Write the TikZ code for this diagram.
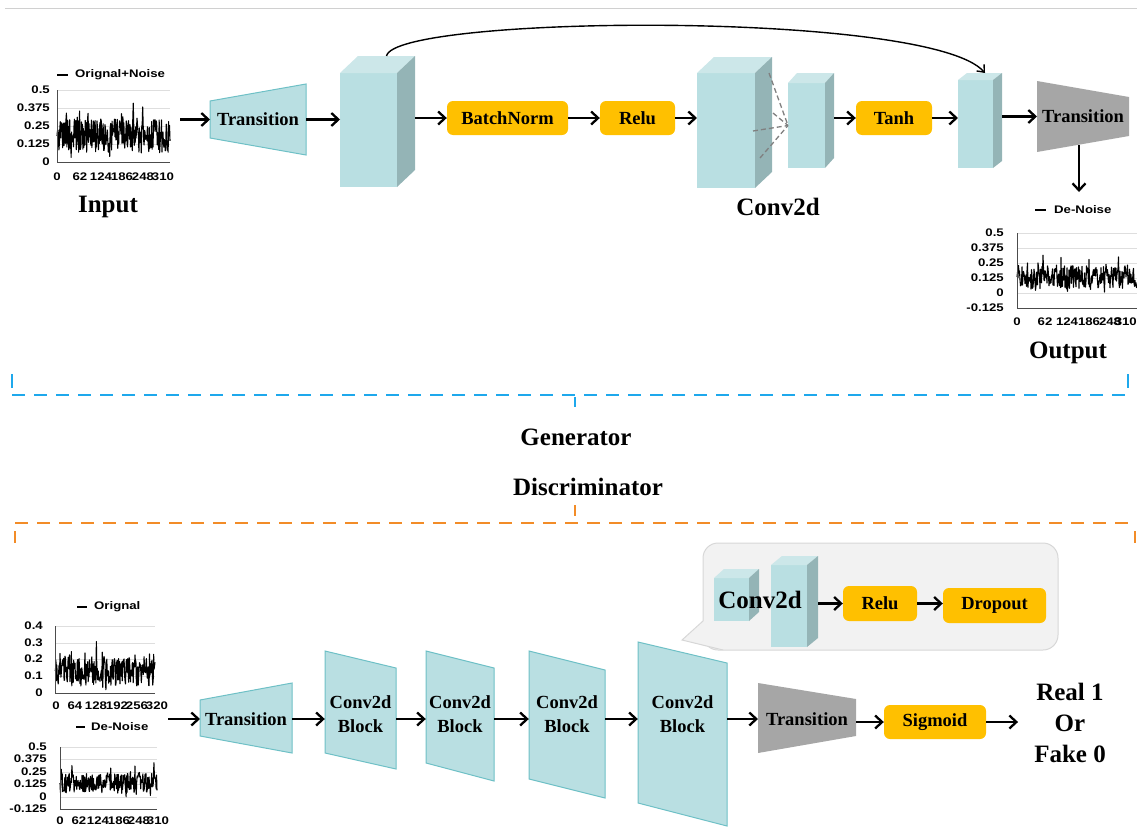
\documentclass[tikz,border=0pt]{standalone}
\usepackage{fontspec}
\setmainfont{Liberation Serif}
\newfontfamily\chartfont{Liberation Sans}[FakeStretch=1.2]
\usetikzlibrary{arrows.meta,calc}

\definecolor{tealfill}{RGB}{185,223,226}
\definecolor{tealtop}{RGB}{204,231,233}
\definecolor{tealside}{RGB}{148,180,182}
\definecolor{tealedge}{RGB}{110,192,198}
\definecolor{amber}{RGB}{255,192,0}
\definecolor{greyfill}{RGB}{166,166,166}
\definecolor{bubblefill}{RGB}{242,242,242}
\definecolor{bubbleedge}{RGB}{215,215,215}
\definecolor{genblue}{RGB}{30,168,236}
\definecolor{disorange}{RGB}{242,140,40}
\definecolor{gridgrey}{RGB}{222,222,222}
\definecolor{dashgrey}{RGB}{128,128,128}
\definecolor{rulegrey}{RGB}{208,208,208}

\newcommand\smallbold{\bfseries\fontsize{18.5}{24}\selectfont}
\newcommand\bigbold{\bfseries\fontsize{25}{31}\selectfont}

\tikzset{
  arr/.style={line width=2.3pt,-{Straight Barb[length=7pt,width=13pt]}},
  thinarr/.style={line width=1.4pt,-{Straight Barb[length=6pt,width=10pt]}},
  op/.style={fill=amber,rounded corners=6pt,inner sep=0pt,font=\smallbold},
  hull/.style={inner sep=0pt,outer sep=0pt},
  smalltxt/.style={font=\smallbold,inner sep=0pt},
  bigtxt/.style={font=\bigbold,inner sep=0pt},
  ticklbl/.style={font=\chartfont\bfseries\fontsize{11}{12}\selectfont,inner sep=0pt},
  tealshape/.style={fill=tealfill,draw=tealedge,line width=1pt},
  greyshape/.style={fill=greyfill},
  trace/.style={line width=1.1pt,line join=round},
  gridline/.style={draw=gridgrey,line width=0.7pt},
  axisline/.style={draw=black!70,line width=1pt},
  legline/.style={line width=1.3pt},
  genbr/.style={draw=genblue,line width=2.5pt},
  disbr/.style={draw=disorange,line width=2.5pt},
  brdash/.style={dash pattern=on 13pt off 9pt},
  bubble/.style={fill=bubblefill,draw=bubbleedge,line width=1pt},
  fanline/.style={draw=dashgrey,line width=1.3pt,dash pattern=on 5pt off 3pt},
}

% \cuboid{name}{left}{top}{right}{bottom}{depth x}{depth y}
\newcommand\cuboid[7]{%
  \fill[tealfill] (#2,#3) rectangle (#4,#5);
  \fill[tealtop] (#2,#3) -- ++(#6,-#7) -- ++({#4-#2},0) -- (#4,#3) -- cycle;
  \fill[tealside] (#4,#3) -- ++(#6,-#7) -- ++(0,{#5-#3}) -- (#4,#5) -- cycle;
  \node[hull,minimum width={#4-#2+#6},minimum height={#5-#3}] (#1)
    at ({(#2+#4+#6)/2},{(#3+#5)/2}) {};
}

% \noisetrace{seed}{x start}{x end}{mid y}{spread}{spike}{dip}{points}
\newcommand\noisetrace[8]{%
  \pgfmathsetseed{#1}
  \draw[trace] (#2,#4) \foreach \k in {1,...,#8} {
    -- ({#2+(#3-#2)/#8*\k},{#4+#5*rand-#6*4*max(0,rand-0.75)+#7*5*max(0,-0.8-rand)}) };
}

\begin{document}
\begin{tikzpicture}[x=1pt,y=-1pt]
\useasboundingbox (0,0) rectangle (1137,827);

% top rule
\draw[rulegrey,line width=1pt] (5,8) -- (1137,8);

% ---------------- generator ----------------
% input chart
\node[hull,minimum width=113pt,minimum height=72pt] (inC) at (113.5,126) {};
\foreach \y in {90,108,126,144} \draw[gridline] (57,\y) -- (170,\y);
\noisetrace{11}{57}{170}{136}{17}{22}{8}{240}
\draw[axisline] (57,90) -- (57,162) -- (170,162);
\foreach \v/\y [count=\n] in {0.5/90,0.375/108,0.25/126,0.125/144,0/162}
  \node[ticklbl,anchor=east] (inY\n) at (50,\y) {\v};
\foreach \v/\x [count=\n] in {0/57,62/80,124/101,186/122,248/143,310/163}
  \node[ticklbl] (inX\n) at (\x,177) {\v};
\draw[legline] (57,75) -- (68,75);
\node[ticklbl,anchor=west] (inLeg) at (75,75) {Orignal+Noise};
\node[bigtxt] (inTxt) at (108,207) {Input};

% first transition
\filldraw[tealshape] (210,101) -- (306,84) -- (306,155) -- (210,138) -- cycle;
\node[hull,smalltxt,minimum width=96pt,minimum height=71pt] (tr1) at (258,119.5) {Transition};

% blocks and operations
\cuboid{gb1}{340}{73}{397}{187}{18}{17}
\node[op,minimum width=121pt,minimum height=34pt] (bn) at (507.5,118) {BatchNorm};
\node[op,minimum width=75pt,minimum height=34pt] (relu1) at (637.5,118) {Relu};
\cuboid{gb2}{697}{73}{755}{188}{17}{16}
\cuboid{gb3}{788}{83}{825}{168}{9}{10}
\node[op,minimum width=76pt,minimum height=34pt] (tanh) at (894,118) {Tanh};
\cuboid{gb4}{958}{80}{993}{168}{9}{7}
\node[bigtxt] (convTxt) at (778,207) {Conv2d};

% convolution fan
\draw[fanline] ($(gb2.north east)+(-3,0)$) -- (gb3.west);
\draw[fanline] ($(gb2.north east)+(1,40)$) -- (gb3.west);
\draw[fanline] ($(gb2.north east)+(-19,58)$) -- (gb3.west);
\draw[fanline] ($(gb2.north east)+(-12,85)$) -- (gb3.west);

% output transition
\fill[greyshape] (1037,81) -- (1129,97) -- (1129,136) -- (1037,152) -- cycle;
\node[hull,smalltxt,minimum width=92pt,minimum height=71pt] (tr2) at (1083,116.5) {Transition};

% output chart
\node[hull,minimum width=120pt,minimum height=75pt] (outC) at (1077,270) {};
\foreach \y in {233,248,263,278,293} \draw[gridline] (1017,\y) -- (1137,\y);
\noisetrace{23}{1017}{1137}{277}{12}{16}{6}{240}
\draw[axisline] (1017,233) -- (1017,308) -- (1137,308);
\foreach \v/\y [count=\n] in {0.5/233,0.375/248,0.25/263,0.125/278,0/293,-0.125/308}
  \node[ticklbl,anchor=east] (outY\n) at (1004,\y) {\v};
\foreach \v/\x [count=\n] in {0/1017,62/1045,124/1067,186/1089,248/1110}
  \node[ticklbl] (outX\n) at (\x,322) {\v};
\node[ticklbl,anchor=east] (outX6) at (1137,322) {310};
\draw[legline] (1035,210) -- (1046,210);
\node[ticklbl,anchor=west] (outLeg) at (1054,210) {De-Noise};
\node[bigtxt] (outTxt) at (1068,353) {Output};
\coordinate (outEnd) at (1079,192);

% generator connectors
\draw[arr] ($(inC.east |- tr1.west)+(10,0)$) -- (tr1.west);
\draw[arr] (tr1.east) -- (gb1.west |- tr1.east);
\draw[arr] (gb1.east |- bn.west) -- (bn.west);
\draw[arr] (bn.east) -- (relu1.west);
\draw[arr] (relu1.east) -- (gb2.west |- relu1.east);
\draw[arr] (gb3.east |- tanh.west) -- (tanh.west);
\draw[arr] (tanh.east) -- (gb4.west |- tanh.east);
\draw[arr] (gb4.east |- tr2.west) -- (tr2.west);
\draw[arr] ($(tr2.south)+(-4,-7)$) -- (outEnd);
\draw[thinarr] ($(gb1.north)+(9,-17)$) .. controls +(8,-41) and +(-55,-63) .. ($(gb4.north)+(5,-7)$);

% ---------------- section brackets ----------------
\draw[genbr] (12,374) -- (12,388);
\draw[genbr] (1128,374) -- (1128,388);
\draw[genbr,brdash] (12,395) -- (1128,395);
\draw[genbr] (575,397) -- (575,407);
\node[bigtxt] (genTxt) at (576,437) {Generator};
\node[bigtxt] (disTxt) at (588,487) {Discriminator};
\draw[disbr] (575,505) -- (575,516);
\draw[disbr,brdash] (15,523) -- (1135,523);
\draw[disbr] (15,531) -- (15,543);
\draw[disbr] (1135,531) -- (1135,543);

% ---------------- discriminator ----------------
% original chart
\node[hull,minimum width=100pt,minimum height=67pt] (orC) at (105,659.5) {};
\foreach \y in {626,643,659,676} \draw[gridline] (55,\y) -- (155,\y);
\noisetrace{37}{55}{155}{671}{15}{18}{7}{220}
\draw[axisline] (55,626) -- (55,693) -- (155,693);
\foreach \v/\y [count=\n] in {0.4/626,0.3/643,0.2/659,0.1/676,0/693}
  \node[ticklbl,anchor=east] (orY\n) at (43,\y) {\v};
\foreach \v/\x [count=\n] in {0/56,64/75,128/96,192/117,256/137,320/157}
  \node[ticklbl] (orX\n) at (\x,706) {\v};
\draw[legline] (77,607) -- (87,607);
\node[ticklbl,anchor=west] (orLeg) at (94,607) {Orignal};

% de-noised chart
\node[hull,minimum width=97pt,minimum height=64pt] (dnC) at (108.5,777) {};
\foreach \y in {747,759,772,784,797} \draw[gridline] (60,\y) -- (157,\y);
\noisetrace{53}{60}{157}{783}{10}{14}{5}{220}
\draw[axisline] (60,747) -- (60,809) -- (157,809);
\foreach \v/\y [count=\n] in {0.5/747,0.375/759,0.25/772,0.125/784,0/797,-0.125/809}
  \node[ticklbl,anchor=east] (dnY\n) at (47,\y) {\v};
\foreach \v/\x [count=\n] in {0/60,62/79,124/98,186/119,248/139,310/158}
  \node[ticklbl] (dnX\n) at (\x,821) {\v};
\draw[legline] (76,727) -- (85,727);
\node[ticklbl,anchor=west] (dnLeg) at (91,727) {De-Noise};
\coordinate (dIn) at (168,719);

% input transition
\filldraw[tealshape] (200,700) -- (292,683) -- (292,753) -- (200,736) -- cycle;
\node[hull,smalltxt,minimum width=92pt,minimum height=70pt] (tr3) at (246,719) {Transition};

% convolution blocks
\filldraw[tealshape] (325,651) -- (396,668) -- (396,769) -- (325,753) -- cycle;
\filldraw[tealshape] (426,651) -- (494,668) -- (494,781) -- (426,763) -- cycle;
\filldraw[tealshape] (529,651) -- (605,670) -- (605,798) -- (529,779) -- cycle;
\filldraw[tealshape] (638,642) -- (727,663) -- (727,826) -- (638,803) -- cycle;
\node[smalltxt,align=center,minimum width=71pt] (cbk1) at (360.5,714) {Conv2d\\Block};
\node[smalltxt,align=center,minimum width=68pt] (cbk2) at (460,714) {Conv2d\\Block};
\node[smalltxt,align=center,minimum width=76pt] (cbk3) at (567,714) {Conv2d\\Block};
\node[smalltxt,align=center,minimum width=89pt] (cbk4) at (682.5,714) {Conv2d\\Block};

% detail bubble
\filldraw[bubble,rounded corners=15pt] (703,543) rectangle (1058,650);
\fill[bubblefill] (704,621) -- (682,640) -- (723,650.5) -- (712,640) -- cycle;
\draw[bubbleedge,line width=1pt] (703,621) -- (682,640) -- (723,650);
\cuboid{cb1}{714}{578}{749}{621}{10}{9}
\cuboid{cb2}{771}{565}{807}{647}{11}{9}
\node[bigtxt] (cbTxt) at (760,600) {Conv2d};
\node[op,minimum width=74pt,minimum height=35pt] (relu2) at (880,603.5) {Relu};
\node[op,minimum width=103pt,minimum height=35pt] (drop) at (994.5,605.5) {Dropout};
\draw[arr] (cb2.east |- relu2.west) -- (relu2.west);
\draw[arr] (relu2.east) -- (drop.west |- relu2.east);

% output stage
\fill[greyshape] (758,683) -- (856,699) -- (856,736) -- (758,753) -- cycle;
\node[hull,smalltxt,minimum width=98pt,minimum height=70pt] (tr4) at (807,719) {Transition};
\node[op,minimum width=102pt,minimum height=34pt] (sig) at (935,722) {Sigmoid};
\node[bigtxt,align=center] (res) at (1070,723) {Real 1\\Or\\Fake 0};

% discriminator connectors
\draw[arr] (dIn) -- (tr3.west);
\draw[arr] (tr3.east) -- (cbk1.west |- tr3.east);
\draw[arr] (cbk1.east |- tr3.east) -- (cbk2.west |- tr3.east);
\draw[arr] (cbk2.east |- tr3.east) -- (cbk3.west |- tr3.east);
\draw[arr] (cbk3.east |- tr3.east) -- (cbk4.west |- tr3.east);
\draw[arr] (cbk4.east |- tr4.west) -- (tr4.west);
\draw[arr] (tr4.east |- sig.west) -- (sig.west);
\draw[arr] (sig.east) -- ($(res.west |- sig.east)+(-16,0)$);
\end{tikzpicture}
\end{document}
